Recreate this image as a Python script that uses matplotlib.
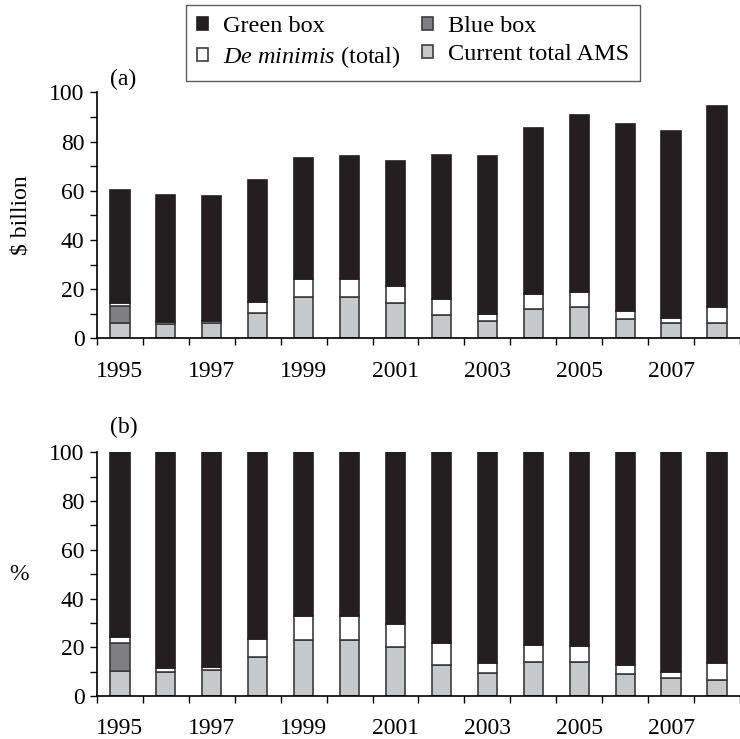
import numpy as np
import matplotlib.pyplot as plt
from matplotlib.ticker import MultipleLocator

plt.rcParams['font.family'] = ['Liberation Serif', 'DejaVu Serif']
plt.rcParams['mathtext.fontset'] = 'custom'
plt.rcParams['mathtext.it'] = 'Liberation Serif:italic'
plt.rcParams['mathtext.rm'] = 'Liberation Serif'

years = list(range(1995, 2009))
# $ billion
current_ams = [6.2, 5.8, 6.2, 10.4, 16.9, 16.9, 14.6, 9.5, 7.0, 11.8, 12.8, 7.8, 6.4, 6.2]
blue_box = [6.9, 0, 0, 0, 0, 0, 0, 0, 0, 0, 0, 0, 0, 0]
de_minimis = [1.5, 1.0, 0.7, 4.6, 7.3, 7.3, 6.8, 6.7, 3.1, 6.3, 6.0, 3.4, 2.0, 6.6]
totals = [60.5, 58.5, 58.0, 64.5, 73.5, 74.0, 72.0, 74.5, 74.0, 85.5, 91.0, 87.0, 84.5, 94.5]

ams = np.array(current_ams)
blue = np.array(blue_box)
dm = np.array(de_minimis)
tot = np.array(totals)
green = tot - ams - blue - dm

c_green = '#231f20'
c_blue = '#7f7f81'
c_dm = '#ffffff'
c_ams = '#c7c8c9'
edge = '#3c3c3c'

fig = plt.figure(figsize=(7.4, 7.39), dpi=100)
ax1 = fig.add_axes([0.131, 0.542, 0.869, 0.333])
ax2 = fig.add_axes([0.131, 0.058, 0.869, 0.330])

x = np.arange(len(years))
w = 0.42
fs = 17


def draw(ax, a, b, d, g):
    kw = dict(width=w, edgecolor=edge, linewidth=1.2)
    h_ams = ax.bar(x, a, color=c_ams, **kw)
    h_blue = ax.bar(x, b, bottom=a, color=c_blue, **kw)
    h_dm = ax.bar(x, d, bottom=a + b, color=c_dm, **kw)
    h_green = ax.bar(x, g, bottom=a + b + d, color=c_green, edgecolor=c_green, width=w, linewidth=1.2)
    ax.set_xlim(-0.5, len(years) - 0.5)
    ax.set_ylim(0, 100)
    ax.yaxis.set_major_locator(MultipleLocator(20))
    ax.yaxis.set_minor_locator(MultipleLocator(10))
    ax.set_xticks(np.arange(-0.5, len(years)))
    ax.set_xticklabels([])
    ax.set_xticks(x[::2], [str(y) for y in years[::2]], minor=True)
    ax.tick_params(axis='x', which='minor', length=0, pad=16, labelsize=fs)
    ax.tick_params(axis='x', which='major', length=5, width=1, direction='out')
    ax.tick_params(axis='y', which='both', length=5, width=1, labelsize=fs, direction='out', pad=4)
    for s in ('top', 'right'):
        ax.spines[s].set_visible(False)
    for s in ('left', 'bottom'):
        ax.spines[s].set_linewidth(1.2)
    return h_green, h_dm, h_blue, h_ams


handles = draw(ax1, ams, blue, dm, green)
pct = 100 / tot
draw(ax2, ams * pct, blue * pct, dm * pct, green * pct)

ax1.set_ylabel('$ billion', fontsize=fs, labelpad=13)
ax2.set_ylabel('%', fontsize=fs, rotation=0, labelpad=22, va='center')
ax1.text(0.021, 1.03, '(a)', transform=ax1.transAxes, fontsize=fs)
ax2.text(0.021, 1.08, '(b)', transform=ax2.transAxes, fontsize=fs)

labels = ['Green box', r'$\it{De\ minimis}$ (total)', 'Blue box', 'Current total AMS']
leg = fig.legend(handles, labels, loc='upper center', bbox_to_anchor=(0.558, 0.993),
                 ncol=2, fontsize=17.5, frameon=True, fancybox=False, edgecolor='#333333',
                 handlelength=0.45, handleheight=0.45, handletextpad=0.6, columnspacing=0.9,
                 borderpad=0.45, labelspacing=0.3, borderaxespad=0.0)
leg.get_frame().set_linewidth(1.0)

fig.savefig('out.png', dpi=100)
